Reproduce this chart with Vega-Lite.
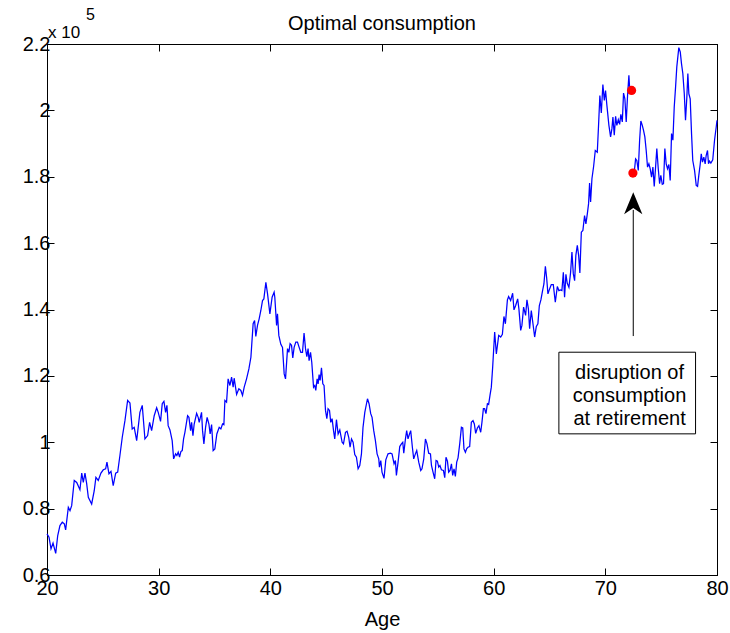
{
  "$schema": "https://vega.github.io/schema/vega-lite/v6.json",
  "autosize": {"type": "none"},
  "width": 670,
  "height": 531,
  "padding": {"left": 47, "top": 44, "right": 13, "bottom": 58},
  "background": "white",
  "config": {
    "view": {"stroke": "black", "strokeWidth": 1},
    "font": "Liberation Sans",
    "axis": {
      "domainColor": "black", "domainWidth": 1, "tickColor": "black", "tickWidth": 1,
      "tickSize": -7, "grid": false, "labelColor": "black", "labelFont": "Liberation Sans",
      "labelFontSize": 20, "labelFlush": false, "titleFont": "Liberation Sans", "titleFontSize": 20,
      "titleFontWeight": "normal", "titleColor": "black"
    }
  },
  "title": {"text": "Optimal consumption", "font": "Liberation Sans", "fontSize": 20, "fontWeight": "normal", "color": "black", "anchor": "middle", "baseline": "alphabetic", "offset": -21, "dy": 22},
  "datasets": {
    "consumption": [
      {"age":20.00,"c":0.724,"phase":"working"},{"age":20.18,"c":0.714,"phase":"working"},{"age":20.36,"c":0.679,"phase":"working"},{"age":20.54,"c":0.696,"phase":"working"},{"age":20.78,"c":0.665,"phase":"working"},{"age":20.96,"c":0.719,"phase":"working"},{"age":21.16,"c":0.749,"phase":"working"},{"age":21.37,"c":0.759,"phase":"working"},{"age":21.55,"c":0.754,"phase":"working"},{"age":21.67,"c":0.736,"phase":"working"},{"age":21.91,"c":0.804,"phase":"working"},{"age":22.06,"c":0.794,"phase":"working"},{"age":22.21,"c":0.809,"phase":"working"},{"age":22.44,"c":0.885,"phase":"working"},{"age":22.66,"c":0.879,"phase":"working"},{"age":22.95,"c":0.857,"phase":"working"},{"age":23.11,"c":0.907,"phase":"working"},{"age":23.25,"c":0.879,"phase":"working"},{"age":23.40,"c":0.907,"phase":"working"},{"age":23.55,"c":0.876,"phase":"working"},{"age":23.70,"c":0.834,"phase":"working"},{"age":24.00,"c":0.814,"phase":"working"},{"age":24.23,"c":0.854,"phase":"working"},{"age":24.38,"c":0.894,"phase":"working"},{"age":24.59,"c":0.885,"phase":"working"},{"age":24.83,"c":0.907,"phase":"working"},{"age":25.04,"c":0.917,"phase":"working"},{"age":25.25,"c":0.920,"phase":"working"},{"age":25.37,"c":0.940,"phase":"working"},{"age":25.55,"c":0.905,"phase":"working"},{"age":25.73,"c":0.912,"phase":"working"},{"age":25.93,"c":0.869,"phase":"working"},{"age":26.15,"c":0.907,"phase":"working"},{"age":26.33,"c":0.910,"phase":"working"},{"age":26.53,"c":0.960,"phase":"working"},{"age":26.74,"c":1.015,"phase":"working"},{"age":26.98,"c":1.065,"phase":"working"},{"age":27.22,"c":1.126,"phase":"working"},{"age":27.43,"c":1.118,"phase":"working"},{"age":27.63,"c":1.040,"phase":"working"},{"age":27.81,"c":1.045,"phase":"working"},{"age":28.03,"c":1.005,"phase":"working"},{"age":28.32,"c":1.090,"phase":"working"},{"age":28.53,"c":1.111,"phase":"working"},{"age":28.77,"c":1.010,"phase":"working"},{"age":29.01,"c":1.020,"phase":"working"},{"age":29.19,"c":1.060,"phase":"working"},{"age":29.37,"c":1.035,"phase":"working"},{"age":29.60,"c":1.080,"phase":"working"},{"age":29.82,"c":1.104,"phase":"working"},{"age":29.96,"c":1.090,"phase":"working"},{"age":30.17,"c":1.063,"phase":"working"},{"age":30.32,"c":1.116,"phase":"working"},{"age":30.47,"c":1.123,"phase":"working"},{"age":30.62,"c":1.090,"phase":"working"},{"age":30.74,"c":1.111,"phase":"working"},{"age":30.85,"c":1.050,"phase":"working"},{"age":31.01,"c":1.037,"phase":"working"},{"age":31.21,"c":1.005,"phase":"working"},{"age":31.34,"c":0.950,"phase":"working"},{"age":31.52,"c":0.965,"phase":"working"},{"age":31.63,"c":0.960,"phase":"working"},{"age":31.75,"c":0.970,"phase":"working"},{"age":31.87,"c":0.955,"phase":"working"},{"age":31.99,"c":0.972,"phase":"working"},{"age":32.11,"c":0.975,"phase":"working"},{"age":32.23,"c":1.010,"phase":"working"},{"age":32.35,"c":1.030,"phase":"working"},{"age":32.59,"c":1.080,"phase":"working"},{"age":32.71,"c":1.075,"phase":"working"},{"age":32.86,"c":1.035,"phase":"working"},{"age":32.95,"c":1.060,"phase":"working"},{"age":33.07,"c":1.020,"phase":"working"},{"age":33.18,"c":1.055,"phase":"working"},{"age":33.40,"c":1.087,"phase":"working"},{"age":33.54,"c":1.075,"phase":"working"},{"age":33.63,"c":1.060,"phase":"working"},{"age":33.84,"c":1.090,"phase":"working"},{"age":33.93,"c":1.035,"phase":"working"},{"age":34.05,"c":0.995,"phase":"working"},{"age":34.20,"c":1.045,"phase":"working"},{"age":34.34,"c":1.075,"phase":"working"},{"age":34.50,"c":1.055,"phase":"working"},{"age":34.61,"c":1.025,"phase":"working"},{"age":34.74,"c":1.053,"phase":"working"},{"age":34.88,"c":0.975,"phase":"working"},{"age":35.03,"c":0.980,"phase":"working"},{"age":35.21,"c":1.025,"phase":"working"},{"age":35.42,"c":1.045,"phase":"working"},{"age":35.57,"c":1.040,"phase":"working"},{"age":35.72,"c":1.055,"phase":"working"},{"age":35.84,"c":1.053,"phase":"working"},{"age":35.93,"c":1.126,"phase":"working"},{"age":36.08,"c":1.121,"phase":"working"},{"age":36.22,"c":1.191,"phase":"working"},{"age":36.38,"c":1.171,"phase":"working"},{"age":36.53,"c":1.196,"phase":"working"},{"age":36.67,"c":1.166,"phase":"working"},{"age":36.76,"c":1.193,"phase":"working"},{"age":36.98,"c":1.144,"phase":"working"},{"age":37.18,"c":1.161,"phase":"working"},{"age":37.36,"c":1.156,"phase":"working"},{"age":37.51,"c":1.141,"phase":"working"},{"age":37.66,"c":1.166,"phase":"working"},{"age":37.87,"c":1.191,"phase":"working"},{"age":38.08,"c":1.221,"phase":"working"},{"age":38.26,"c":1.256,"phase":"working"},{"age":38.46,"c":1.357,"phase":"working"},{"age":38.59,"c":1.367,"phase":"working"},{"age":38.70,"c":1.319,"phase":"working"},{"age":38.85,"c":1.352,"phase":"working"},{"age":39.00,"c":1.372,"phase":"working"},{"age":39.15,"c":1.397,"phase":"working"},{"age":39.30,"c":1.427,"phase":"working"},{"age":39.42,"c":1.432,"phase":"working"},{"age":39.60,"c":1.482,"phase":"working"},{"age":39.75,"c":1.447,"phase":"working"},{"age":39.96,"c":1.387,"phase":"working"},{"age":40.16,"c":1.437,"phase":"working"},{"age":40.34,"c":1.452,"phase":"working"},{"age":40.40,"c":1.437,"phase":"working"},{"age":40.56,"c":1.352,"phase":"working"},{"age":40.64,"c":1.387,"phase":"working"},{"age":40.76,"c":1.322,"phase":"working"},{"age":40.94,"c":1.295,"phase":"working"},{"age":41.09,"c":1.286,"phase":"working"},{"age":41.24,"c":1.206,"phase":"working"},{"age":41.36,"c":1.191,"phase":"working"},{"age":41.54,"c":1.282,"phase":"working"},{"age":41.66,"c":1.271,"phase":"working"},{"age":41.77,"c":1.297,"phase":"working"},{"age":41.90,"c":1.292,"phase":"working"},{"age":42.01,"c":1.254,"phase":"working"},{"age":42.13,"c":1.286,"phase":"working"},{"age":42.28,"c":1.302,"phase":"working"},{"age":42.43,"c":1.302,"phase":"working"},{"age":42.58,"c":1.286,"phase":"working"},{"age":42.73,"c":1.271,"phase":"working"},{"age":42.88,"c":1.271,"phase":"working"},{"age":43.02,"c":1.329,"phase":"working"},{"age":43.15,"c":1.282,"phase":"working"},{"age":43.27,"c":1.258,"phase":"working"},{"age":43.38,"c":1.282,"phase":"working"},{"age":43.47,"c":1.246,"phase":"working"},{"age":43.60,"c":1.271,"phase":"working"},{"age":43.71,"c":1.241,"phase":"working"},{"age":43.87,"c":1.166,"phase":"working"},{"age":43.98,"c":1.171,"phase":"working"},{"age":44.07,"c":1.156,"phase":"working"},{"age":44.19,"c":1.191,"phase":"working"},{"age":44.28,"c":1.176,"phase":"working"},{"age":44.37,"c":1.204,"phase":"working"},{"age":44.46,"c":1.186,"phase":"working"},{"age":44.58,"c":1.224,"phase":"working"},{"age":44.70,"c":1.176,"phase":"working"},{"age":44.81,"c":1.171,"phase":"working"},{"age":44.94,"c":1.096,"phase":"working"},{"age":45.06,"c":1.071,"phase":"working"},{"age":45.17,"c":1.101,"phase":"working"},{"age":45.30,"c":1.096,"phase":"working"},{"age":45.41,"c":1.060,"phase":"working"},{"age":45.53,"c":1.071,"phase":"working"},{"age":45.66,"c":1.035,"phase":"working"},{"age":45.77,"c":1.010,"phase":"working"},{"age":45.92,"c":1.068,"phase":"working"},{"age":46.07,"c":1.025,"phase":"working"},{"age":46.22,"c":1.037,"phase":"working"},{"age":46.43,"c":1.000,"phase":"working"},{"age":46.55,"c":0.995,"phase":"working"},{"age":46.73,"c":1.030,"phase":"working"},{"age":46.87,"c":1.033,"phase":"working"},{"age":47.02,"c":1.015,"phase":"working"},{"age":47.14,"c":0.985,"phase":"working"},{"age":47.27,"c":1.010,"phase":"working"},{"age":47.41,"c":1.000,"phase":"working"},{"age":47.56,"c":0.963,"phase":"working"},{"age":47.71,"c":0.955,"phase":"working"},{"age":47.86,"c":0.920,"phase":"working"},{"age":48.01,"c":0.930,"phase":"working"},{"age":48.16,"c":0.965,"phase":"working"},{"age":48.30,"c":1.045,"phase":"working"},{"age":48.46,"c":1.090,"phase":"working"},{"age":48.61,"c":1.116,"phase":"working"},{"age":48.70,"c":1.131,"phase":"working"},{"age":48.84,"c":1.116,"phase":"working"},{"age":48.99,"c":1.086,"phase":"working"},{"age":49.11,"c":1.075,"phase":"working"},{"age":49.26,"c":1.035,"phase":"working"},{"age":49.41,"c":1.005,"phase":"working"},{"age":49.56,"c":0.965,"phase":"working"},{"age":49.71,"c":0.950,"phase":"working"},{"age":49.77,"c":0.925,"phase":"working"},{"age":49.89,"c":0.945,"phase":"working"},{"age":50.00,"c":0.910,"phase":"working"},{"age":50.18,"c":0.891,"phase":"working"},{"age":50.34,"c":0.947,"phase":"working"},{"age":50.54,"c":0.965,"phase":"working"},{"age":50.76,"c":0.967,"phase":"working"},{"age":50.90,"c":0.965,"phase":"working"},{"age":51.08,"c":0.935,"phase":"working"},{"age":51.20,"c":0.945,"phase":"working"},{"age":51.29,"c":0.900,"phase":"working"},{"age":51.44,"c":0.940,"phase":"working"},{"age":51.59,"c":0.987,"phase":"working"},{"age":51.74,"c":0.995,"phase":"working"},{"age":51.86,"c":1.000,"phase":"working"},{"age":51.95,"c":0.967,"phase":"working"},{"age":52.10,"c":1.010,"phase":"working"},{"age":52.21,"c":1.035,"phase":"working"},{"age":52.33,"c":1.010,"phase":"working"},{"age":52.46,"c":1.025,"phase":"working"},{"age":52.57,"c":1.035,"phase":"working"},{"age":52.72,"c":0.985,"phase":"working"},{"age":52.84,"c":0.950,"phase":"working"},{"age":52.99,"c":0.965,"phase":"working"},{"age":53.11,"c":0.975,"phase":"working"},{"age":53.29,"c":0.940,"phase":"working"},{"age":53.47,"c":0.915,"phase":"working"},{"age":53.58,"c":0.920,"phase":"working"},{"age":53.74,"c":0.950,"phase":"working"},{"age":53.89,"c":1.010,"phase":"working"},{"age":54.03,"c":0.995,"phase":"working"},{"age":54.18,"c":0.967,"phase":"working"},{"age":54.34,"c":0.965,"phase":"working"},{"age":54.43,"c":0.930,"phase":"working"},{"age":54.57,"c":0.910,"phase":"working"},{"age":54.72,"c":0.890,"phase":"working"},{"age":54.84,"c":0.945,"phase":"working"},{"age":54.96,"c":0.943,"phase":"working"},{"age":55.08,"c":0.925,"phase":"working"},{"age":55.19,"c":0.930,"phase":"working"},{"age":55.32,"c":0.917,"phase":"working"},{"age":55.50,"c":0.915,"phase":"working"},{"age":55.62,"c":0.893,"phase":"working"},{"age":55.73,"c":0.955,"phase":"working"},{"age":55.86,"c":0.943,"phase":"working"},{"age":55.97,"c":0.910,"phase":"working"},{"age":56.09,"c":0.915,"phase":"working"},{"age":56.22,"c":0.935,"phase":"working"},{"age":56.33,"c":0.900,"phase":"working"},{"age":56.45,"c":0.920,"phase":"working"},{"age":56.57,"c":0.897,"phase":"working"},{"age":56.69,"c":0.940,"phase":"working"},{"age":56.81,"c":0.953,"phase":"working"},{"age":56.96,"c":0.995,"phase":"working"},{"age":57.11,"c":1.045,"phase":"working"},{"age":57.23,"c":1.043,"phase":"working"},{"age":57.34,"c":0.980,"phase":"working"},{"age":57.47,"c":0.970,"phase":"working"},{"age":57.58,"c":0.980,"phase":"working"},{"age":57.70,"c":0.985,"phase":"working"},{"age":57.85,"c":0.987,"phase":"working"},{"age":58.00,"c":1.060,"phase":"working"},{"age":58.15,"c":1.065,"phase":"working"},{"age":58.27,"c":1.055,"phase":"working"},{"age":58.39,"c":1.027,"phase":"working"},{"age":58.54,"c":1.043,"phase":"working"},{"age":58.68,"c":1.050,"phase":"working"},{"age":58.84,"c":1.030,"phase":"working"},{"age":58.95,"c":1.060,"phase":"working"},{"age":59.08,"c":1.101,"phase":"working"},{"age":59.19,"c":1.101,"phase":"working"},{"age":59.31,"c":1.086,"phase":"working"},{"age":59.44,"c":1.116,"phase":"working"},{"age":59.55,"c":1.114,"phase":"working"},{"age":59.67,"c":1.141,"phase":"working"},{"age":59.79,"c":1.166,"phase":"working"},{"age":59.91,"c":1.226,"phase":"working"},{"age":60.03,"c":1.297,"phase":"working"},{"age":60.09,"c":1.332,"phase":"working"},{"age":60.24,"c":1.266,"phase":"working"},{"age":60.45,"c":1.322,"phase":"working"},{"age":60.63,"c":1.317,"phase":"working"},{"age":60.78,"c":1.325,"phase":"working"},{"age":60.92,"c":1.379,"phase":"working"},{"age":61.05,"c":1.357,"phase":"working"},{"age":61.23,"c":1.429,"phase":"working"},{"age":61.34,"c":1.439,"phase":"working"},{"age":61.52,"c":1.427,"phase":"working"},{"age":61.70,"c":1.449,"phase":"working"},{"age":61.82,"c":1.399,"phase":"working"},{"age":61.97,"c":1.412,"phase":"working"},{"age":62.15,"c":1.432,"phase":"working"},{"age":62.26,"c":1.402,"phase":"working"},{"age":62.42,"c":1.337,"phase":"working"},{"age":62.53,"c":1.352,"phase":"working"},{"age":62.68,"c":1.407,"phase":"working"},{"age":62.86,"c":1.382,"phase":"working"},{"age":62.98,"c":1.429,"phase":"working"},{"age":63.11,"c":1.402,"phase":"working"},{"age":63.22,"c":1.342,"phase":"working"},{"age":63.37,"c":1.397,"phase":"working"},{"age":63.52,"c":1.357,"phase":"working"},{"age":63.67,"c":1.317,"phase":"working"},{"age":63.82,"c":1.349,"phase":"working"},{"age":63.96,"c":1.357,"phase":"working"},{"age":64.09,"c":1.412,"phase":"working"},{"age":64.23,"c":1.429,"phase":"working"},{"age":64.38,"c":1.457,"phase":"working"},{"age":64.50,"c":1.477,"phase":"working"},{"age":64.63,"c":1.530,"phase":"working"},{"age":64.74,"c":1.497,"phase":"working"},{"age":64.86,"c":1.447,"phase":"working"},{"age":65.01,"c":1.462,"phase":"working"},{"age":65.16,"c":1.475,"phase":"working"},{"age":65.34,"c":1.475,"phase":"working"},{"age":65.52,"c":1.422,"phase":"working"},{"age":65.70,"c":1.469,"phase":"working"},{"age":65.84,"c":1.457,"phase":"working"},{"age":66.00,"c":1.459,"phase":"working"},{"age":66.11,"c":1.457,"phase":"working"},{"age":66.24,"c":1.512,"phase":"working"},{"age":66.35,"c":1.437,"phase":"working"},{"age":66.47,"c":1.506,"phase":"working"},{"age":66.59,"c":1.479,"phase":"working"},{"age":66.74,"c":1.467,"phase":"working"},{"age":66.89,"c":1.512,"phase":"working"},{"age":67.01,"c":1.573,"phase":"working"},{"age":67.13,"c":1.508,"phase":"working"},{"age":67.25,"c":1.487,"phase":"working"},{"age":67.36,"c":1.563,"phase":"working"},{"age":67.49,"c":1.593,"phase":"working"},{"age":67.61,"c":1.563,"phase":"working"},{"age":67.72,"c":1.510,"phase":"working"},{"age":67.85,"c":1.633,"phase":"working"},{"age":67.99,"c":1.638,"phase":"working"},{"age":68.14,"c":1.683,"phase":"working"},{"age":68.26,"c":1.658,"phase":"working"},{"age":68.39,"c":1.689,"phase":"working"},{"age":68.50,"c":1.719,"phase":"working"},{"age":68.59,"c":1.781,"phase":"working"},{"age":68.68,"c":1.724,"phase":"working"},{"age":68.80,"c":1.794,"phase":"working"},{"age":68.95,"c":1.831,"phase":"working"},{"age":69.10,"c":1.879,"phase":"working"},{"age":69.28,"c":1.874,"phase":"working"},{"age":69.40,"c":1.960,"phase":"working"},{"age":69.51,"c":2.045,"phase":"working"},{"age":69.64,"c":1.992,"phase":"working"},{"age":69.78,"c":2.078,"phase":"working"},{"age":69.91,"c":2.030,"phase":"working"},{"age":70.02,"c":2.060,"phase":"working"},{"age":70.14,"c":2.015,"phase":"working"},{"age":70.32,"c":1.955,"phase":"working"},{"age":70.47,"c":1.920,"phase":"working"},{"age":70.59,"c":1.945,"phase":"working"},{"age":70.68,"c":1.980,"phase":"working"},{"age":70.80,"c":1.925,"phase":"working"},{"age":70.92,"c":1.982,"phase":"working"},{"age":71.03,"c":1.955,"phase":"working"},{"age":71.16,"c":1.972,"phase":"working"},{"age":71.28,"c":1.958,"phase":"working"},{"age":71.39,"c":1.988,"phase":"working"},{"age":71.52,"c":1.965,"phase":"working"},{"age":71.63,"c":2.052,"phase":"working"},{"age":71.75,"c":2.035,"phase":"working"},{"age":71.87,"c":1.965,"phase":"working"},{"age":71.99,"c":2.045,"phase":"working"},{"age":72.11,"c":2.106,"phase":"working"},{"age":72.17,"c":2.070,"phase":"working"},{"age":72.35,"c":2.060,"phase":"working"},
      {"age":72.47,"c":1.811,"phase":"retired"},{"age":72.62,"c":1.824,"phase":"retired"},{"age":72.71,"c":1.854,"phase":"retired"},{"age":72.82,"c":1.849,"phase":"retired"},{"age":72.95,"c":1.819,"phase":"retired"},{"age":73.07,"c":1.910,"phase":"retired"},{"age":73.18,"c":1.968,"phase":"retired"},{"age":73.31,"c":1.955,"phase":"retired"},{"age":73.42,"c":1.940,"phase":"retired"},{"age":73.54,"c":1.920,"phase":"retired"},{"age":73.66,"c":1.879,"phase":"retired"},{"age":73.78,"c":1.829,"phase":"retired"},{"age":73.90,"c":1.839,"phase":"retired"},{"age":74.02,"c":1.824,"phase":"retired"},{"age":74.14,"c":1.799,"phase":"retired"},{"age":74.26,"c":1.829,"phase":"retired"},{"age":74.38,"c":1.771,"phase":"retired"},{"age":74.50,"c":1.829,"phase":"retired"},{"age":74.61,"c":1.885,"phase":"retired"},{"age":74.74,"c":1.824,"phase":"retired"},{"age":74.86,"c":1.779,"phase":"retired"},{"age":74.97,"c":1.804,"phase":"retired"},{"age":75.10,"c":1.777,"phase":"retired"},{"age":75.21,"c":1.779,"phase":"retired"},{"age":75.33,"c":1.885,"phase":"retired"},{"age":75.45,"c":1.839,"phase":"retired"},{"age":75.57,"c":1.824,"phase":"retired"},{"age":75.69,"c":1.837,"phase":"retired"},{"age":75.81,"c":1.789,"phase":"retired"},{"age":75.93,"c":1.930,"phase":"retired"},{"age":76.05,"c":1.910,"phase":"retired"},{"age":76.17,"c":2.010,"phase":"retired"},{"age":76.29,"c":2.070,"phase":"retired"},{"age":76.40,"c":2.131,"phase":"retired"},{"age":76.58,"c":2.189,"phase":"retired"},{"age":76.71,"c":2.176,"phase":"retired"},{"age":76.82,"c":2.141,"phase":"retired"},{"age":76.94,"c":2.111,"phase":"retired"},{"age":77.07,"c":2.050,"phase":"retired"},{"age":77.18,"c":1.970,"phase":"retired"},{"age":77.30,"c":2.040,"phase":"retired"},{"age":77.39,"c":2.111,"phase":"retired"},{"age":77.48,"c":2.050,"phase":"retired"},{"age":77.60,"c":2.035,"phase":"retired"},{"age":77.72,"c":1.930,"phase":"retired"},{"age":77.83,"c":1.849,"phase":"retired"},{"age":77.99,"c":1.819,"phase":"retired"},{"age":78.14,"c":1.774,"phase":"retired"},{"age":78.26,"c":1.771,"phase":"retired"},{"age":78.37,"c":1.804,"phase":"retired"},{"age":78.50,"c":1.839,"phase":"retired"},{"age":78.59,"c":1.869,"phase":"retired"},{"age":78.70,"c":1.844,"phase":"retired"},{"age":78.82,"c":1.859,"phase":"retired"},{"age":78.94,"c":1.839,"phase":"retired"},{"age":79.03,"c":1.864,"phase":"retired"},{"age":79.15,"c":1.879,"phase":"retired"},{"age":79.24,"c":1.839,"phase":"retired"},{"age":79.33,"c":1.847,"phase":"retired"},{"age":79.45,"c":1.841,"phase":"retired"},{"age":79.62,"c":1.851,"phase":"retired"},{"age":79.78,"c":1.910,"phase":"retired"},{"age":79.93,"c":1.950,"phase":"retired"},{"age":80.00,"c":1.970,"phase":"retired"}
    ],
    "dots": [{"age": 72.35, "c": 2.060}, {"age": 72.47, "c": 1.811}],
    "arrow": [{"age": 72.5, "from": 1.32, "to": 1.70, "head": 1.7205}],
    "note": [{"left": 65.84, "right": 78.08, "top": 1.2713, "bottom": 1.0253, "center": 72.17, "first": 1.1911, "label": ["disruption of", "consumption", "at retirement"]}],
    "exponent": [{"age": 20, "c": 2.2, "base": "x 10", "power": "5"}]
  },
  "resolve": {"axis": {"x": "independent", "y": "independent"}},
  "layer": [
    {
      "data": {"name": "consumption"},
      "mark": {"type": "line", "color": "#0000ff", "strokeWidth": 1.25, "interpolate": "linear"},
      "encoding": {
        "x": {"field": "age", "type": "quantitative", "scale": {"domain": [20, 80], "nice": false, "zero": false},
              "axis": {"orient": "bottom", "values": [20, 30, 40, 50, 60, 70, 80], "title": "Age", "labelPadding": 10, "titlePadding": 11}},
        "y": {"field": "c", "type": "quantitative", "scale": {"domain": [0.6, 2.2], "nice": false, "zero": false},
              "axis": {"orient": "left", "values": [0.6, 0.8, 1.0, 1.2, 1.4, 1.6, 1.8, 2.0, 2.2], "format": "~g", "title": null, "labelPadding": 4}},
        "detail": {"field": "phase", "type": "nominal"}
      }
    },
    {
      "data": {"name": "dots"},
      "mark": {"type": "point", "filled": true, "color": "#ff0000", "size": 85, "opacity": 1},
      "encoding": {
        "x": {"field": "age", "type": "quantitative", "axis": {"orient": "top", "values": [20, 30, 40, 50, 60, 70, 80], "labels": false, "title": null}},
        "y": {"field": "c", "type": "quantitative", "axis": {"orient": "right", "values": [0.6, 0.8, 1.0, 1.2, 1.4, 1.6, 1.8, 2.0, 2.2], "labels": false, "title": null}}
      }
    },
    {
      "data": {"name": "arrow"},
      "mark": {"type": "rule", "color": "black", "strokeWidth": 1},
      "encoding": {
        "x": {"field": "age", "type": "quantitative", "axis": null},
        "y": {"field": "from", "type": "quantitative", "axis": null},
        "y2": {"field": "to"}
      }
    },
    {
      "data": {"name": "arrow"},
      "mark": {"type": "point", "shape": "M0,-1L0.83,1L0,0.45L-0.83,1Z", "filled": true, "color": "black", "size": 484, "opacity": 1, "strokeWidth": 0},
      "encoding": {
        "x": {"field": "age", "type": "quantitative", "axis": null},
        "y": {"field": "head", "type": "quantitative", "axis": null}
      }
    },
    {
      "data": {"name": "note"},
      "mark": {"type": "rect", "fill": "white", "stroke": "black", "strokeWidth": 1},
      "encoding": {
        "x": {"field": "left", "type": "quantitative", "axis": null},
        "x2": {"field": "right"},
        "y": {"field": "top", "type": "quantitative", "axis": null},
        "y2": {"field": "bottom"}
      }
    },
    {
      "data": {"name": "note"},
      "mark": {"type": "text", "font": "Liberation Sans", "fontSize": 20, "lineHeight": 23, "align": "center", "baseline": "alphabetic", "color": "black"},
      "encoding": {
        "x": {"field": "center", "type": "quantitative", "axis": null},
        "y": {"field": "first", "type": "quantitative", "axis": null},
        "text": {"field": "label"}
      }
    },
    {
      "data": {"name": "exponent"},
      "mark": {"type": "text", "font": "Liberation Sans", "fontSize": 17, "align": "left", "baseline": "alphabetic", "color": "black", "dx": 1, "dy": -6.5},
      "encoding": {
        "x": {"field": "age", "type": "quantitative", "axis": null},
        "y": {"field": "c", "type": "quantitative", "axis": null},
        "text": {"field": "base"}
      }
    },
    {
      "data": {"name": "exponent"},
      "mark": {"type": "text", "font": "Liberation Sans", "fontSize": 16, "align": "left", "baseline": "alphabetic", "color": "black", "dx": 39, "dy": -24},
      "encoding": {
        "x": {"field": "age", "type": "quantitative", "axis": null},
        "y": {"field": "c", "type": "quantitative", "axis": null},
        "text": {"field": "power"}
      }
    }
  ]
}
